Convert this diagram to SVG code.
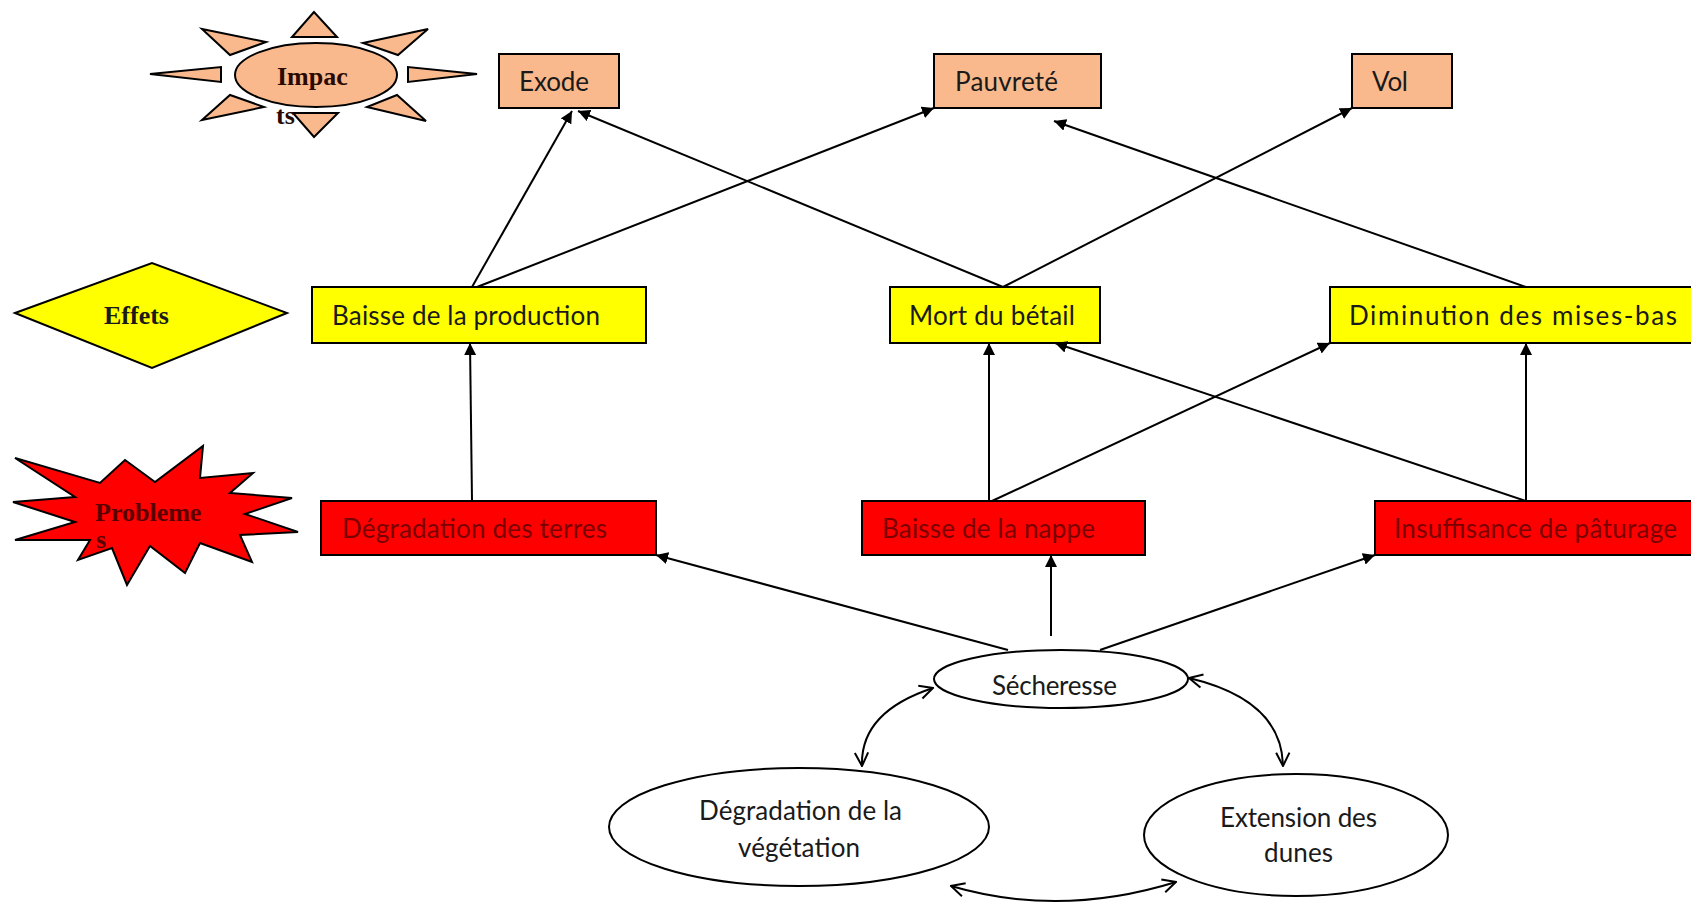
<svg xmlns="http://www.w3.org/2000/svg" width="1691" height="903" viewBox="0 0 1691 903">
<defs>
<style>
.box{stroke:#000;stroke-width:2}
.imp{fill:#F9B98C}
.eff{fill:#FFFF00}
.pro{fill:#FF0000}
.t{font-family:Lato,"Liberation Sans",sans-serif;font-size:26px;fill:#1a1a1a}
.tr{font-family:Lato,"Liberation Sans",sans-serif;font-size:26px;fill:#7A0000}
.lbl{font-family:"Liberation Serif",serif;font-weight:bold;font-size:26px}
.ln{stroke:#000;stroke-width:2;fill:none}
.ell{fill:#fff;stroke:#000;stroke-width:2}
</style>
<marker id="ah" viewBox="0 0 10 10" refX="10" refY="5" markerWidth="12" markerHeight="12" markerUnits="userSpaceOnUse" orient="auto"><path d="M0,0 L10,5 L0,10 z" fill="#000"/></marker>
<marker id="ao" viewBox="0 0 12 12" refX="11" refY="6" markerWidth="16" markerHeight="16" markerUnits="userSpaceOnUse" orient="auto-start-reverse"><path d="M1,1 L11,6 L1,11" fill="none" stroke="#000" stroke-width="1.5"/></marker>
</defs>
<rect width="1691" height="903" fill="#fff"/>

<g id="legend-impacts">
<g class="imp" stroke="#000" stroke-width="2">
<polygon points="314,12 292,37 337,37"/>
<polygon points="293,113 338,113 314,137"/>
<polygon points="150,74 221,67 221,82"/>
<polygon points="477,74 408,67 408,82"/>
<polygon points="202,29 266,42 230,55"/>
<polygon points="428,29 363,43 398,55"/>
<polygon points="202,120 264,107 230,95"/>
<polygon points="426,121 367,107 397,95"/>
<ellipse cx="316" cy="75" rx="81" ry="32"/>
</g>
<text class="lbl" x="277" y="85" fill="#2a0a00">Impac</text>
<text class="lbl" x="276" y="124" fill="#2a0a00">ts</text>
</g>

<g id="legend-effets">
<polygon points="15,313 152,263 287,313 152,368" fill="#FFFF00" stroke="#000" stroke-width="2"/>
<text class="lbl" x="104" y="324" fill="#1a1a1a">Effets</text>
</g>

<g id="legend-problemes">
<polygon points="15,458 100,483 125,460 155,482 203,446 200,478 253,473 230,493 292,498 245,514 298,532 240,535 252,562 200,543 185,573 150,546 127,585 112,548 78,560 90,540 15,540 75,522 13,502 75,497" fill="#FF0000" stroke="#000" stroke-width="2"/>
<text class="lbl" x="95" y="521" fill="#5a0000">Probleme</text>
<text class="lbl" x="96" y="548" fill="#5a0000">s</text>
</g>

<g id="exode"><rect class="box imp" x="499" y="54" width="120" height="54"/><text class="t" x="519" y="91" textLength="70">Exode</text></g>
<g id="pauvrete"><rect class="box imp" x="934" y="54" width="167" height="54"/><text class="t" x="955" y="91" textLength="103">Pauvreté</text></g>
<g id="vol"><rect class="box imp" x="1352" y="54" width="100" height="54"/><text class="t" x="1372" y="91" textLength="36">Vol</text></g>

<g id="baisse-production"><rect class="box eff" x="312" y="287" width="334" height="56"/><text class="t" x="332" y="325" textLength="268">Baisse de la production</text></g>
<g id="mort-betail"><rect class="box eff" x="890" y="287" width="210" height="56"/><text class="t" x="909" y="325" textLength="166">Mort du bétail</text></g>
<g id="diminution"><rect class="box eff" x="1330" y="287" width="370" height="56"/><text class="t" x="1349" y="325" textLength="328">Diminution des mises-bas</text></g>

<g id="degradation-terres"><rect class="box pro" x="321" y="501" width="335" height="54"/><text class="tr" x="342" y="538" textLength="265">Dégradation des terres</text></g>
<g id="baisse-nappe"><rect class="box pro" x="862" y="501" width="283" height="54"/><text class="tr" x="882" y="538" textLength="213">Baisse de la nappe</text></g>
<g id="insuffisance"><rect class="box pro" x="1375" y="501" width="325" height="54"/><text class="tr" x="1394" y="538" textLength="283">Insuffisance de pâturage</text></g>

<g id="secheresse"><ellipse class="ell" cx="1061" cy="679" rx="127" ry="29"/><text class="t" x="992" y="695" textLength="125">Sécheresse</text></g>
<g id="degradation-vegetation"><ellipse class="ell" cx="799" cy="827" rx="190" ry="59"/><text class="t" x="699" y="820" textLength="203">Dégradation de la</text><text class="t" x="738" y="857" textLength="122">végétation</text></g>
<g id="extension-dunes"><ellipse class="ell" cx="1296" cy="835" rx="152" ry="61"/><text class="t" x="1220" y="827" textLength="157">Extension des</text><text class="t" x="1264" y="862" textLength="69">dunes</text></g>

<g id="connectors">
<line class="ln" x1="472" y1="287" x2="572" y2="111" marker-end="url(#ah)"/>
<line class="ln" x1="477" y1="287" x2="934" y2="108" marker-end="url(#ah)"/>
<line class="ln" x1="1003" y1="287" x2="578" y2="111" marker-end="url(#ah)"/>
<line class="ln" x1="1003" y1="287" x2="1352" y2="108" marker-end="url(#ah)"/>
<line class="ln" x1="1526" y1="287" x2="1054" y2="121" marker-end="url(#ah)"/>
<line class="ln" x1="472" y1="501" x2="470" y2="343" marker-end="url(#ah)"/>
<line class="ln" x1="989" y1="501" x2="989" y2="343" marker-end="url(#ah)"/>
<line class="ln" x1="992" y1="501" x2="1330" y2="343" marker-end="url(#ah)"/>
<line class="ln" x1="1526" y1="501" x2="1055" y2="343" marker-end="url(#ah)"/>
<line class="ln" x1="1526" y1="501" x2="1526" y2="343" marker-end="url(#ah)"/>
<line class="ln" x1="1008" y1="650" x2="656" y2="555" marker-end="url(#ah)"/>
<line class="ln" x1="1051" y1="636" x2="1051" y2="555" marker-end="url(#ah)"/>
<line class="ln" x1="1100" y1="650" x2="1375" y2="555" marker-end="url(#ah)"/>
<path class="ln" d="M933,688 Q860,712 862,766" marker-start="url(#ao)" marker-end="url(#ao)"/>
<path class="ln" d="M1189,678 Q1282,700 1283,766" marker-start="url(#ao)" marker-end="url(#ao)"/>
<path class="ln" d="M951,886 Q1060,918 1176,882" marker-start="url(#ao)" marker-end="url(#ao)"/>
</g>
</svg>
